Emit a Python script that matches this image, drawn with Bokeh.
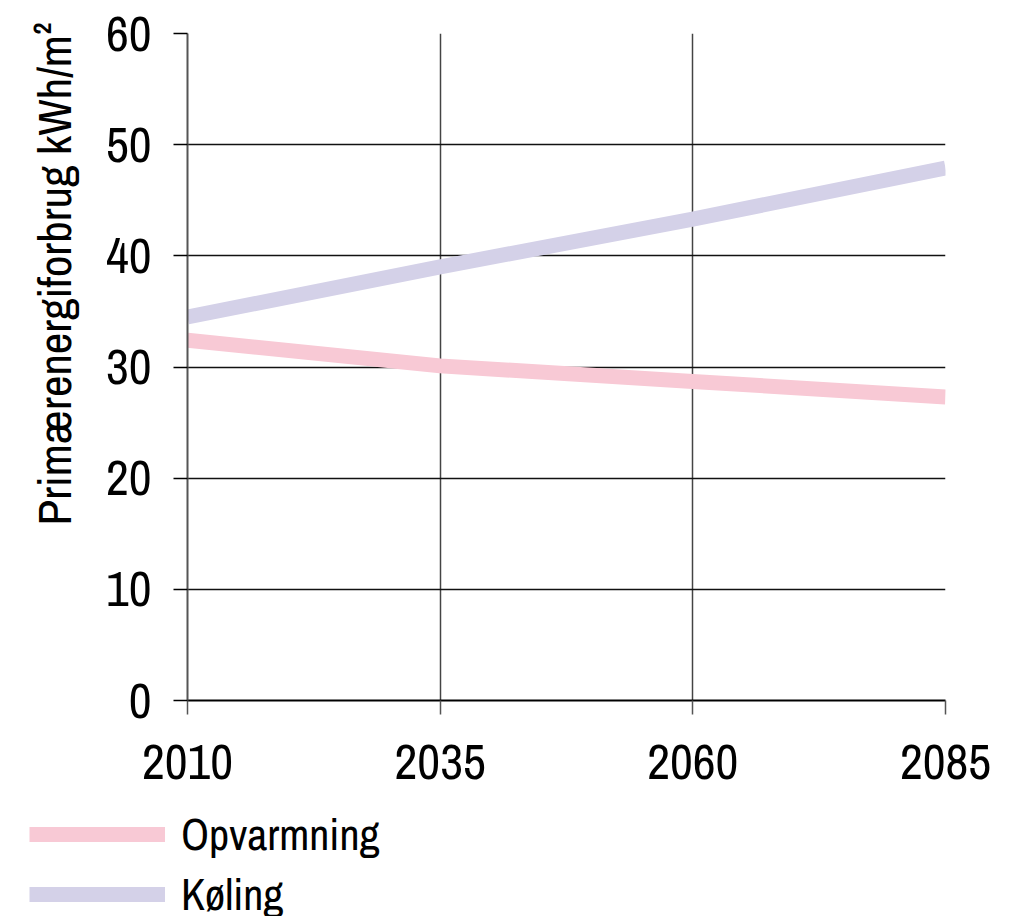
from bokeh.plotting import figure
from bokeh.models import FixedTicker, Legend, LegendItem, Title
from bokeh.embed import file_html
from bokeh.resources import INLINE

years = [2010, 2035, 2060, 2085]
opvarmning = [32.4, 30.1, 28.7, 27.3]
koling = [34.5, 39.0, 43.3, 47.9]
y_ticks = [0, 10, 20, 30, 40, 50, 60]
series_names = ["Opvarmning", "Køling"]
series_colors = ["#F8C9D5", "#D4D1E8"]
y_label = "Primærenergiforbrug  kWh/m²"

FONT = "Archivo Narrow"
FS = "50px"
FS_LAB = "47px"
FS_LEG = "44px"

p = figure(width=1002, height=804, output_backend="svg", toolbar_location=None,
           x_range=(2010, 2085), y_range=(0, 60),
           frame_width=758, frame_height=667,
           min_border_left=187, min_border_top=33, min_border_right=57,
           min_border_bottom=104)
p.outline_line_color = None
p.background_fill_color = "white"
p.border_fill_color = "white"

p.xaxis.ticker = FixedTicker(ticks=years)
p.yaxis.ticker = FixedTicker(ticks=y_ticks)
for ax in (p.xaxis, p.yaxis):
    ax.major_label_text_font = FONT
    ax.major_label_text_font_size = FS
    ax.major_label_text_color = "black"
    ax.minor_tick_line_color = None
    ax.major_tick_in = 0
    ax.major_tick_out = 14
    ax.major_tick_line_width = 1.5
p.xaxis.axis_line_color = "black"
p.xaxis.axis_line_width = 2
p.xaxis.major_tick_line_color = "#555555"
p.xaxis.major_label_standoff = 30
p.yaxis.axis_line_color = "#555555"
p.yaxis.axis_line_width = 2
p.yaxis.major_tick_line_color = "black"
p.yaxis.major_label_standoff = 22

p.xgrid.ticker = FixedTicker(ticks=years)
p.ygrid.ticker = FixedTicker(ticks=y_ticks)
p.xgrid.grid_line_color = "#444444"
p.xgrid.grid_line_width = 1.5
p.ygrid.grid_line_color = "#111111"
p.ygrid.grid_line_width = 1.5

p.line(years, opvarmning, line_color=series_colors[0], line_width=15)
p.line(years, koling, line_color=series_colors[1], line_width=15)

t = Title(text=y_label, align="left", offset=175, text_font=FONT,
          text_font_size=FS_LAB, text_font_style="normal", text_color="black",
          standoff=34)
p.add_layout(t, "left")

# legend strip below the chart (separate root, so no frame alignment)
p2 = figure(width=1002, height=112, output_backend="svg", toolbar_location=None,
            x_range=(0, 1), y_range=(0, 1), x_axis_type=None, y_axis_type=None,
            min_border_left=29, min_border_top=0, min_border_right=0,
            min_border_bottom=0)
p2.outline_line_color = None
p2.background_fill_color = "white"
p2.border_fill_color = "white"
p2.grid.visible = False
k1 = p2.line(years, opvarmning, line_color=series_colors[0], line_width=15)
k2 = p2.line(years, koling, line_color=series_colors[1], line_width=15)
legend = Legend(items=[LegendItem(label=series_names[0], renderers=[k1]),
                       LegendItem(label=series_names[1], renderers=[k2])],
                location="top_left", orientation="vertical",
                label_text_font=FONT, label_text_font_size=FS_LEG,
                label_text_color="black",
                glyph_width=136, glyph_height=34, label_height=34,
                spacing=-4, label_standoff=16, padding=0, margin=0,
                border_line_color=None, background_fill_alpha=0)
p2.add_layout(legend, "center")

open("out.html", "w").write(file_html([p, p2], INLINE))
